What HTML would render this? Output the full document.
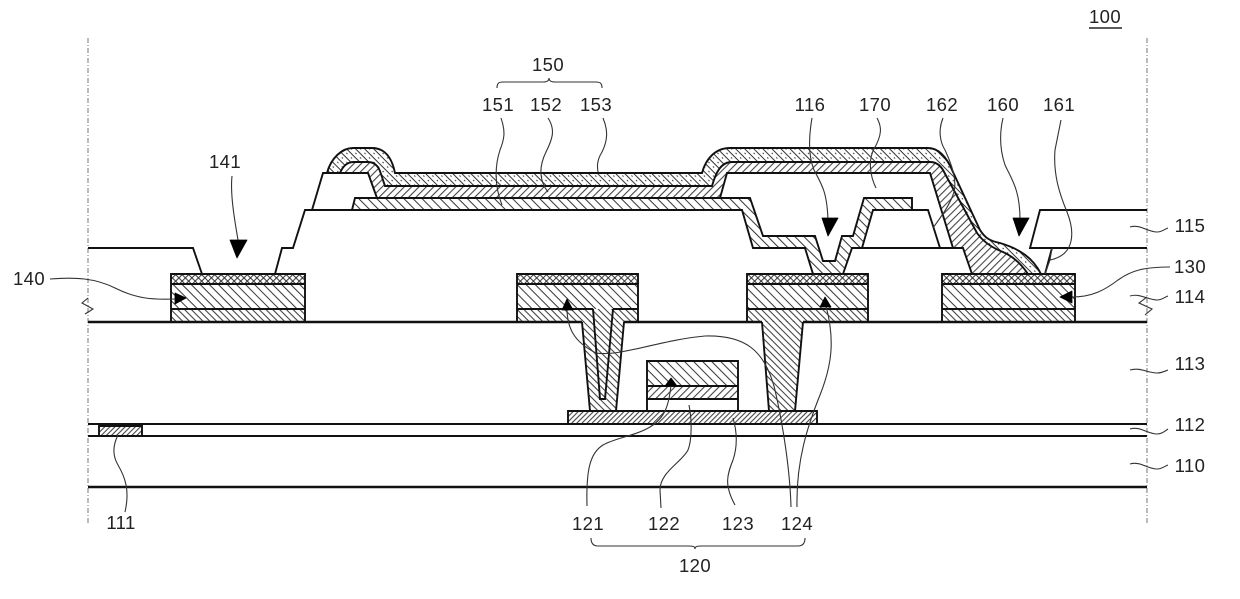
<!DOCTYPE html>
<html><head><meta charset="utf-8"><style>
html,body{margin:0;padding:0;background:#fff;width:1240px;height:599px;overflow:hidden}
svg{display:block;filter:blur(.3px)}
text{font-family:"Liberation Sans",sans-serif;font-size:18.5px;fill:#222;text-anchor:middle;letter-spacing:.4px}
.l{fill:none;stroke:#111;stroke-width:1.9;stroke-linejoin:miter}
.t{fill:none;stroke:#111;stroke-width:2.4}
.a{fill:none;stroke:#333;stroke-width:1.1}
.d{fill:none;stroke:#aaa;stroke-width:1.6;stroke-dasharray:5 2 1 2}
.h{stroke:#333;stroke-width:1}
</style></head><body>
<svg width="1240" height="599" viewBox="0 0 1240 599" xmlns="http://www.w3.org/2000/svg">
<defs>
<pattern id="b7" width="6.4" height="6.4" patternUnits="userSpaceOnUse" patternTransform="rotate(45)"><line x1="0" y1="2" x2="6.4" y2="2" class="h"/></pattern>
<pattern id="b4" width="4.8" height="4.8" patternUnits="userSpaceOnUse" patternTransform="rotate(45)"><line x1="0" y1="2" x2="4.8" y2="2" class="h"/></pattern>
<pattern id="s5" width="5.2" height="5.2" patternUnits="userSpaceOnUse" patternTransform="rotate(-45)"><line x1="0" y1="2" x2="5.2" y2="2" class="h"/></pattern>
<pattern id="s3" width="3.6" height="3.6" patternUnits="userSpaceOnUse" patternTransform="rotate(-45)"><line x1="0" y1="1.5" x2="3.6" y2="1.5" class="h"/></pattern>
<pattern id="cap" width="6.4" height="6.4" patternUnits="userSpaceOnUse" patternTransform="rotate(45)"><line x1="0" y1="1" x2="6.4" y2="1" class="h"/><line x1="1" y1="4" x2="2.6" y2="4" class="h" stroke-width=".9"/></pattern>
<pattern id="x" width="4.6" height="4.6" patternUnits="userSpaceOnUse" patternTransform="rotate(45)"><rect width="4.6" height="4.6" fill="#fff"/><line x1="0" y1="1" x2="4.6" y2="1" class="h"/><line x1="1" y1="0" x2="1" y2="4.6" class="h"/></pattern>
</defs>

<!-- side boundaries -->
<line x1="88" y1="38" x2="88" y2="525" class="d"/>
<line x1="1147" y1="38" x2="1147" y2="525" class="d"/>

<!-- electrodes fills -->
<g>
<rect x="171" y="274" width="134" height="10" fill="url(#x)"/><rect x="171" y="284" width="134" height="25" fill="url(#b7)"/><rect x="171" y="309" width="134" height="13" fill="url(#b4)"/>
<rect x="517" y="274" width="121" height="10" fill="url(#x)"/><rect x="517" y="284" width="121" height="25" fill="url(#b7)"/><rect x="517" y="309" width="121" height="13" fill="url(#b4)"/>
<rect x="747" y="274" width="121" height="10" fill="url(#x)"/><rect x="747" y="284" width="121" height="25" fill="url(#b7)"/><rect x="747" y="309" width="121" height="13" fill="url(#b4)"/>
<rect x="942" y="274" width="133" height="10" fill="url(#x)"/><rect x="942" y="284" width="133" height="25" fill="url(#b7)"/><rect x="942" y="309" width="133" height="13" fill="url(#b4)"/>
<polygon points="582,321 590,411 616,411 624,321" fill="url(#b4)"/>
<polygon points="762,321 769,411 795,411 803,321" fill="url(#b4)"/>
<rect x="647" y="361" width="91" height="25" fill="url(#b7)"/>
<rect x="647" y="386" width="91" height="13" fill="url(#s5)"/>
<rect x="568" y="411" width="249" height="13" fill="url(#s3)"/>
<rect x="99" y="426" width="43" height="10" fill="url(#s3)"/>
</g>

<!-- upper layer fills -->
<path d="M355,198 L750,198 L763,236 L815,236 L823,261 L835,261 L842,236 L853,236 L864,198 L912,198 L912,210 L873,210 L862,248 L852,248 L843,274 L813,274 L805,248 L753,248 L742,210 L352,210 Z" fill="url(#b7)"/>
<path d="M340,173 C343,166 347,162 354,162 L368,162 C375,162 379,167 381,174 L385,186 L712,186 C716,172 721,162 732,162 L930,162 C936,162 940,165 943,170 L963,207 L977,233 C982,240 990,247 1003,252 C1012,256 1020,262 1028,274 L972,274 L963,248 L953,248 L930,173 L727,173 L720,198 L377,198 L368,173 Z" fill="url(#s5)"/>
<path d="M327,173 C331,158 342,148 353,148 L372,148 C385,148 392,158 395,173 L702,173 C706,158 716,148 730,148 L928,148 C940,148 948,160 953,172 L980,230 C985,238 990,241 1000,243 C1020,249 1033,258 1041,274 L1028,274 C1020,262 1012,256 1003,252 C990,247 982,240 977,233 L963,207 L943,170 C940,165 936,162 930,162 L732,162 C721,162 716,172 712,186 L385,186 L381,174 C379,167 375,162 368,162 L354,162 C347,162 343,166 340,173 Z" fill="url(#cap)"/>

<!-- layer and structure lines -->
<g class="l">
<path d="M88,248 L193,248 L202,274"/>
<path d="M275,274 L282,248 L293,248 L305,210 L742,210 L753,248 L805,248 L813,274"/>
<path d="M843,274 L852,248 L963,248 L972,274"/>
<path d="M1045,274 L1052,248"/>
<path d="M1147,248 L1030,248 L1040,210 L1147,210"/>
<path d="M312,210 L323,173 L368,173 L377,198"/>
<path d="M352,210 L355,198 L750,198 L763,236 L815,236 L823,261 L835,261 L842,236 L853,236 L864,198 L912,198 L912,210 L873,210 L862,248"/>
<path d="M873,210 L928,210 L940,248"/>
<path d="M720,198 L727,173 L930,173 L953,248"/>
<path d="M327,173 C331,158 342,148 353,148 L372,148 C385,148 392,158 395,173 L702,173 C706,158 716,148 730,148 L928,148 C940,148 948,160 953,172 L980,230 C985,238 990,241 1000,243 C1020,249 1033,258 1041,274"/>
<path d="M340,173 C343,166 347,162 354,162 L368,162 C375,162 379,167 381,174 L385,186 L712,186 C716,172 721,162 732,162 L930,162 C936,162 940,165 943,170 L963,207 L977,233 C982,240 990,247 1003,252 C1012,256 1020,262 1028,274"/>

<!-- electrode outlines -->
<path d="M171,322 L171,274 L305,274 L305,322 M171,284 H305 M171,309 H305"/>
<path d="M517,322 L517,274 L638,274 L638,322 M517,284 H638 M517,309 H593 M613,309 H638"/>
<path d="M747,322 L747,274 L868,274 L868,322 M747,284 H868 M747,309 H868"/>
<path d="M942,322 L942,274 L1075,274 L1075,322 M942,284 H1075 M942,309 H1075"/>
<!-- vias -->
<path d="M582,322 L590,411 M616,411 L624,322 M593,309 L600,399 L605,399 L613,309"/>
<path d="M762,322 L769,411 M795,411 L803,322"/>
<!-- gate -->
<path d="M647,411 L647,361 L738,361 L738,411 M647,386 H738 M647,399 H738"/>
<!-- active -->
<path d="M568,424 L568,411 L817,411 L817,424"/>
<path d="M99,436 L99,426 L142,426 L142,436"/>
<line x1="88" y1="424" x2="1147" y2="424"/>
<line x1="88" y1="436" x2="1147" y2="436"/>
</g>
<path d="M88,322 H582 M624,322 H762 M803,322 H1147" class="t"/>
<line x1="88" y1="487" x2="1147" y2="487" class="t"/>

<!-- break marks -->
<path d="M88,298 L82,303 L93,309 L85,314" class="a"/>
<path d="M1147,297 L1139,303 L1152,309 L1145,315" class="a"/>

<!-- leaders -->
<g class="a">
<path d="M232,176 C230,195 235,222 238,240"/>
<path d="M501,118 C506,132 504,140 500,150 C495,165 494,185 502,205"/>
<path d="M548,118 C556,130 552,140 546,152 C538,168 540,182 548,192"/>
<path d="M603,118 C608,130 608,140 602,152 C597,160 597,166 598,172"/>
<path d="M812,118 C809,135 808,155 814,170 C822,185 827,192 828,220"/>
<path d="M877,118 C882,127 882,135 874,149 C868,160 870,176 876,188"/>
<path d="M943,118 C938,130 940,142 945,150 C952,165 958,182 953,195 C948,208 940,218 933,228"/>
<path d="M1003,118 C999,135 1000,150 1005,165 C1012,180 1020,190 1020,220"/>
<path d="M1061,120 L1055,150 C1053,175 1060,195 1067,212 C1075,232 1075,255 1050,260"/>
<path d="M1052,248 L1050,260 L1045,274"/>
<path d="M50,279 C75,277 95,278 115,288 C135,298 150,300 176,299"/>
<path d="M1072,297 C1092,297 1105,290 1118,280 C1132,270 1145,267 1170,267"/>
<path d="M1130,227 C1140,224 1148,232 1157,232 C1162,232 1165,229 1168,228"/>
<path d="M1130,296 C1140,293 1148,300 1157,300 C1162,300 1165,297 1168,296"/>
<path d="M1130,370 C1140,367 1148,373 1157,373 C1162,373 1165,371 1168,370"/>
<path d="M1130,429 C1140,426 1148,434 1157,434 C1162,434 1165,431 1168,429"/>
<path d="M1130,464 C1140,461 1148,469 1157,469 C1162,469 1165,466 1168,465"/>
<path d="M118,435 C113,445 112,455 118,465 C125,477 130,490 125,512"/>
<path d="M671,385 C669,405 665,418 650,427 C635,436 615,438 603,445 C590,453 586,470 587,506"/>
<path d="M689,405 C692,420 692,440 688,450 C682,462 660,472 660,490 L661,508"/>
<path d="M733,418 C738,435 737,448 733,460 C727,475 724,485 735,505"/>
<path d="M567,308 C567,328 574,342 596,353 C620,357 660,340 705,336 C745,335 765,350 775,390 C783,425 790,470 791,507"/>
<path d="M826,306 C835,340 832,365 820,395 C808,425 796,460 797,507"/>
</g>

<!-- arrowheads -->
<g fill="#000" stroke="#000" stroke-width=".8" stroke-linejoin="round">
<polygon points="230,240 247,240 237,258"/>
<polygon points="822,218 838,218 828,236"/>
<polygon points="1013,218 1029,218 1019,236"/>
<polygon points="175,293 175,304 186,298"/>
<polygon points="1072,291 1072,303 1060,297"/>
<polygon points="562,310 573,310 567,299"/>
<polygon points="820,307 831,307 825,297"/>
<polygon points="665,386 677,386 671,378"/>
</g>

<!-- braces -->
<path d="M497,88 C497,83 499,82 503,82 L543,82 C547,82 549,81 549,78 C549,81 551,82 555,82 L596,82 C600,82 602,83 602,88" class="a"/>
<path d="M591,538 C591,544 594,546 598,546 L688,546 C692,546 695,546 695,549 C695,546 698,546 702,546 L798,546 C802,546 805,544 805,538" class="a"/>

<!-- labels -->
<text x="1105" y="23">100</text>
<line x1="1089" y1="28" x2="1122" y2="28" stroke="#222" stroke-width="1.6"/>
<text x="548" y="71">150</text>
<text x="498" y="111">151</text>
<text x="546" y="111">152</text>
<text x="596" y="111">153</text>
<text x="810" y="111">116</text>
<text x="875" y="111">170</text>
<text x="942" y="111">162</text>
<text x="1003" y="111">160</text>
<text x="1059" y="111">161</text>
<text x="225" y="168">141</text>
<text x="29" y="285">140</text>
<text x="1190" y="232">115</text>
<text x="1190" y="273">130</text>
<text x="1190" y="303">114</text>
<text x="1190" y="370">113</text>
<text x="1190" y="431">112</text>
<text x="1190" y="472">110</text>
<text x="121" y="529">111</text>
<text x="588" y="530">121</text>
<text x="664" y="530">122</text>
<text x="738" y="530">123</text>
<text x="797" y="530">124</text>
<text x="695" y="572">120</text>
</svg>
</body></html>
